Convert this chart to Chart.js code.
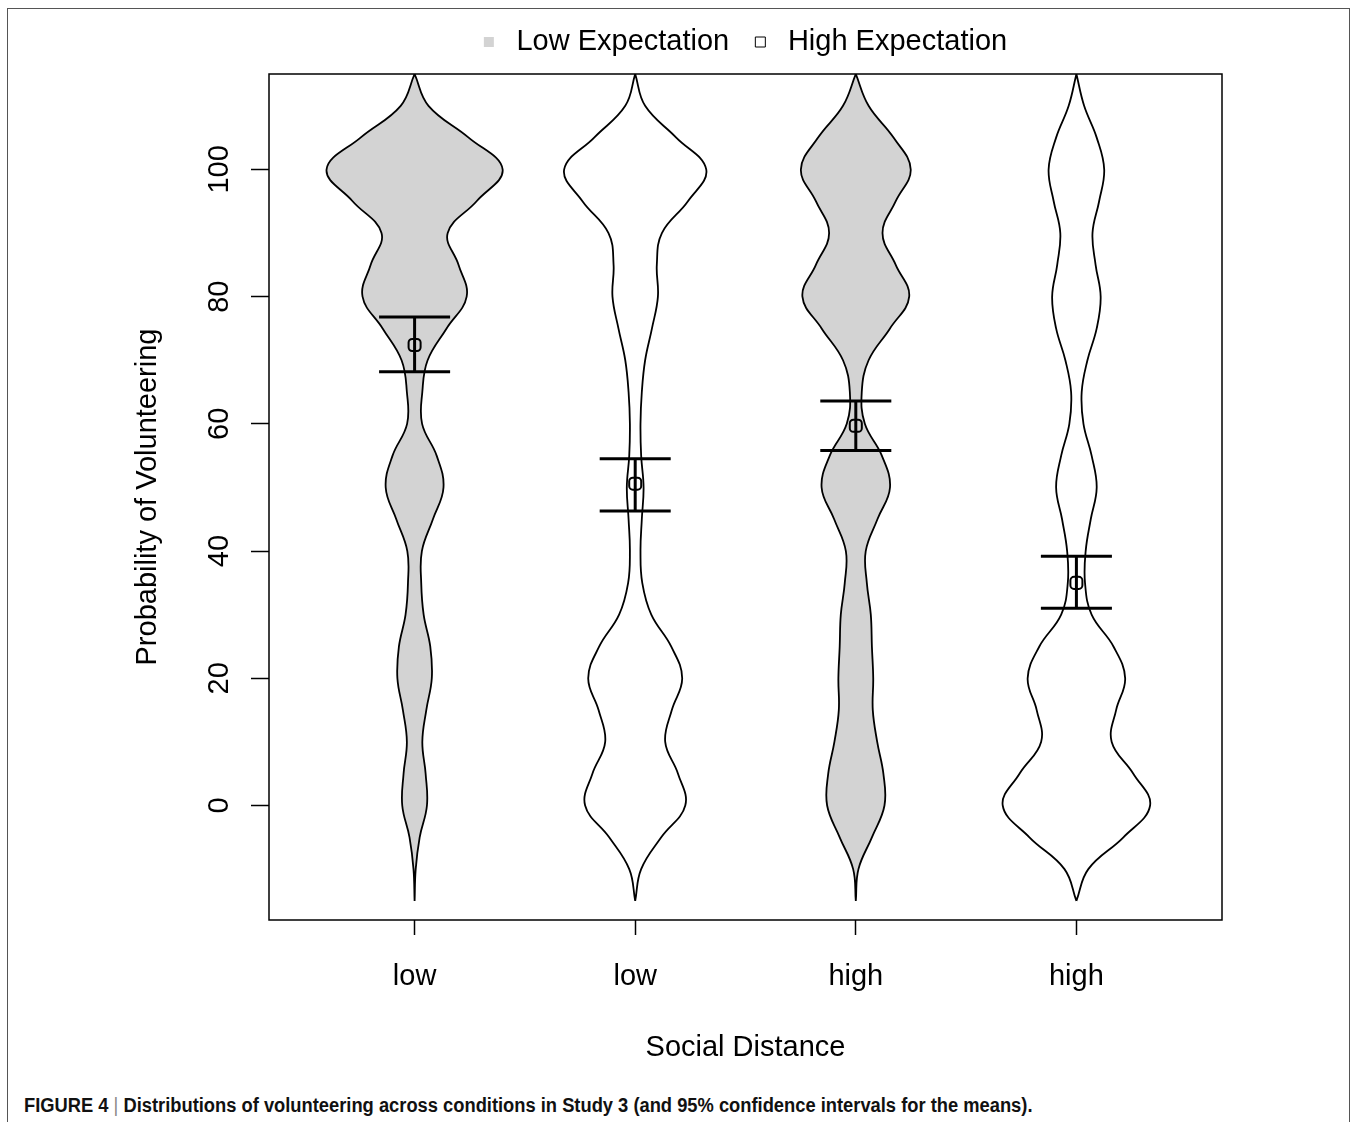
<!DOCTYPE html>
<html>
<head>
<meta charset="utf-8">
<title>Distributions of volunteering (Study 3)</title>
<script src="https://cdn.jsdelivr.net/npm/chart.js@4.4.1/dist/chart.umd.min.js"></script>
<style>
  html, body { margin: 0; padding: 0; background: #fff; }
  body { width: 1357px; height: 1122px; position: relative; overflow: hidden; }
  #frame { position: absolute; left: 7px; top: 8px; width: 1341px; height: 1130px; border: 1px solid #555; }
  #wrap { position: absolute; left: 0; top: 0; width: 1357px; height: 1080px; }
  #caption {
    position: absolute; left: 24px; top: 1094px;
    font-family: 'Liberation Sans Narrow', 'Arial Narrow', 'Liberation Sans', sans-serif;
    font-weight: bold; font-size: 20px; color: #111; white-space: nowrap;
    transform: scaleX(0.916); transform-origin: left top;
  }
  #caption .bar { color: #888; font-weight: normal; }
</style>
</head>
<body>
<div id="frame"></div>
<div id="wrap"><canvas id="chart"></canvas></div>
<div id="caption">FIGURE 4 <span class="bar">|</span> Distributions of volunteering across conditions in Study 3 (and 95% confidence intervals for the means).</div>
<script>
// --- Daten ---
const socialDistance = ['low', 'low', 'high', 'high'];
const expectationGroups = ['Low Expectation', 'High Expectation'];
const violinGroup = [0, 1, 0, 1];          // welche Erwartung gehört zu welcher Violine
const yTicks = [0, 20, 40, 60, 80, 100];

// Dichte-Raster (Wahrscheinlichkeit in %) und halbe Violinenbreite je Raster-Wert
const densityGrid = [-15, -10, -5, 0, 5, 10, 15, 20, 25, 30, 35, 40, 45, 50, 55,
                     60, 65, 70, 75, 80, 85, 90, 95, 100, 105, 110, 115];
const halfWidthLowLow = [0, 0.005, 0.023, 0.056, 0.050, 0.035, 0.053, 0.078, 0.071, 0.041, 0.030, 0.033, 0.083, 0.131,
                         0.100, 0.034, 0.035, 0.059, 0.145, 0.236, 0.199, 0.150, 0.281, 0.399, 0.245, 0.063, 0];
const halfWidthLowHigh = [0, 0.027, 0.118, 0.227, 0.194, 0.136, 0.166, 0.213, 0.163, 0.073, 0.032, 0.024, 0.030, 0.038,
                          0.027, 0.024, 0.030, 0.045, 0.076, 0.103, 0.098, 0.121, 0.239, 0.322, 0.186, 0.045, 0];
const halfWidthHighLow = [0, 0.012, 0.073, 0.130, 0.125, 0.097, 0.077, 0.079, 0.073, 0.068, 0.050, 0.045, 0.098, 0.155,
                          0.118, 0.041, 0.027, 0.058, 0.155, 0.242, 0.181, 0.121, 0.181, 0.249, 0.171, 0.058, 0];
const halfWidthHighHigh = [0, 0.054, 0.213, 0.334, 0.258, 0.160, 0.180, 0.221, 0.168, 0.069, 0.039, 0.042, 0.065, 0.092,
                           0.069, 0.032, 0.024, 0.050, 0.092, 0.110, 0.087, 0.073, 0.103, 0.126, 0.092, 0.035, 0];

// Mittelwerte und 95%-Konfidenzintervalle
const meanValues = [72.4, 50.6, 59.7, 35.0];
const ciLower = [68.2, 46.3, 55.8, 31.0];
const ciUpper = [76.8, 54.5, 63.6, 39.2];

const violinWidths = [halfWidthLowLow, halfWidthLowHigh, halfWidthHighLow, halfWidthHighHigh];
const groupFill = ['#d3d3d3', '#ffffff'];
const capHalf = 0.161;
const fontFamily = "'Liberation Sans', Arial, Helvetica, sans-serif";

Chart.defaults.font.family = fontFamily;
Chart.defaults.color = '#000';

// Umriss: rechte Seite nach oben, linke Seite wieder runter.
// Die Spitze oben kommt so doppelt vor -> spitzes Ende statt Rundung.
function violinOutline(pos, widths) {
    const right = densityGrid.map((v, i) => ({ x: pos + widths[i], y: v }));
    const left = densityGrid.map((v, i) => ({ x: pos - widths[i], y: v })).reverse();
    return right.concat(left);
}

const datasets = [];
socialDistance.forEach((label, i) => {
    const pos = i + 1;
    datasets.push({
        label: expectationGroups[violinGroup[i]],
        data: violinOutline(pos, violinWidths[i]),
        borderColor: '#000',
        borderWidth: 1.8,
        backgroundColor: groupFill[violinGroup[i]],
        fill: 'shape',
        tension: 0.4,
        pointRadius: 0,
        order: 3
    });
    // Fehlerbalken: senkrechte Linie + zwei Querstriche
    const barStyle = { borderColor: '#000', borderWidth: 3, pointRadius: 0, fill: false, tension: 0, order: 2 };
    datasets.push({ ...barStyle, data: [{ x: pos, y: ciLower[i] }, { x: pos, y: ciUpper[i] }] });
    [ciLower[i], ciUpper[i]].forEach(v => {
        datasets.push({ ...barStyle, data: [{ x: pos - capHalf, y: v }, { x: pos + capHalf, y: v }] });
    });
    datasets.push({
        data: [{ x: pos, y: meanValues[i] }],
        showLine: false,
        pointStyle: 'rectRounded',
        pointRadius: 7,
        pointBorderWidth: 2,
        pointBorderColor: '#000',
        pointBackgroundColor: 'rgba(0,0,0,0)',
        order: 1
    });
});

// Rahmen um die Plotfläche (wie bei R: box())
const plotFrame = {
    id: 'plotFrame',
    afterDraw(chart) {
        const { ctx, chartArea: a } = chart;
        ctx.save();
        ctx.strokeStyle = '#000';
        ctx.lineWidth = 1.5;
        ctx.strokeRect(a.left, a.top, a.right - a.left, a.bottom - a.top);
        ctx.restore();
    }
};

new Chart(document.getElementById('chart'), {
    type: 'line',
    data: { datasets: datasets },
    plugins: [plotFrame],
    options: {
        responsive: true,
        maintainAspectRatio: false,
        animation: false,
        events: [],
        layout: { padding: { left: 110, right: 135, top: 17.5, bottom: 0 } },
        plugins: {
            tooltip: { enabled: false },
            legend: {
                position: 'top',
                fullSize: false,
                labels: {
                    boxWidth: 10,
                    boxHeight: 10,
                    padding: 10,
                    font: { size: 29 },
                    color: '#000',
                    generateLabels: () => [
                        { text: ' ' + expectationGroups[0] + '  ', fillStyle: groupFill[0], strokeStyle: groupFill[0], lineWidth: 0 },
                        { text: ' ' + expectationGroups[1], fillStyle: groupFill[1], strokeStyle: '#000', lineWidth: 1 }
                    ]
                }
            }
        },
        scales: {
            x: {
                type: 'linear',
                min: 0.34,
                max: 4.66,
                afterBuildTicks: scale => { scale.ticks = socialDistance.map((_, i) => ({ value: i + 1 })); },
                afterFit: scale => { scale.height = 160; },
                ticks: {
                    callback: (value, index) => socialDistance[index],
                    font: { size: 29 },
                    padding: 25,
                    autoSkip: false,
                    maxRotation: 0
                },
                grid: { drawOnChartArea: false, tickLength: 15, tickWidth: 1.5, tickColor: '#000' },
                border: { display: false },
                title: { display: true, text: 'Social Distance', font: { size: 29 }, padding: { top: 0, bottom: 14.6 } }
            },
            // nur Abstandhalter zwischen Legende und Plotfläche
            xSpacer: {
                type: 'linear',
                position: 'top',
                display: true,
                afterFit: scale => { scale.height = 7.5; },
                ticks: { display: false },
                grid: { display: false, drawTicks: false },
                border: { display: false }
            },
            y: {
                min: -18,
                max: 115,
                afterBuildTicks: scale => { scale.ticks = yTicks.map(v => ({ value: v })); },
                afterFit: scale => { scale.width = 159; },
                ticks: { font: { size: 29 }, minRotation: 90, maxRotation: 90, crossAlign: 'center', padding: 7 },
                grid: { drawOnChartArea: false, tickLength: 18, tickWidth: 1.5, tickColor: '#000' },
                border: { display: false },
                title: { display: true, text: 'Probability of Volunteering', font: { size: 29 }, padding: { top: 20.6, bottom: 0 } }
            }
        }
    }
});
</script>
</body>
</html>
